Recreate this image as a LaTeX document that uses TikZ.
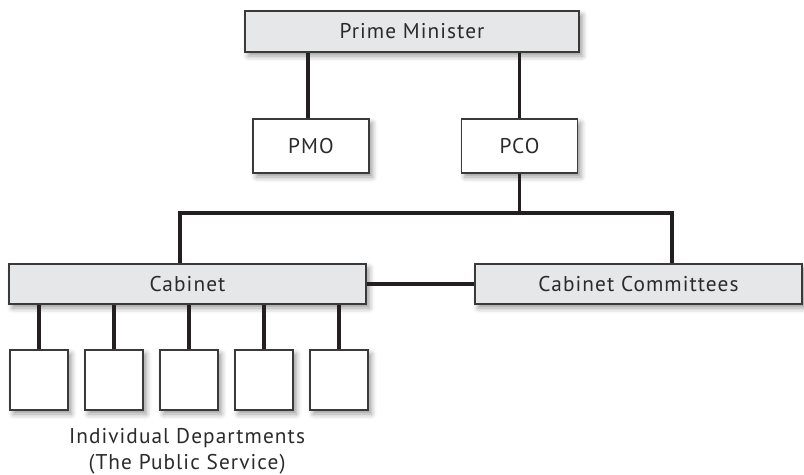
\documentclass[tikz,border=0pt]{standalone}
\usepackage{fontspec}
\setmainfont[LetterSpace=5]{PT Sans}
\usetikzlibrary{shadows.blur}
\definecolor{OrgFill}{HTML}{E6E7E8}
\definecolor{OrgLine}{HTML}{3A3A3A}
\definecolor{OrgLink}{HTML}{231F20}
\definecolor{OrgText}{HTML}{2B2B2B}
\tikzset{
  orgbox/.style={draw=OrgLine,line width=0.8pt,fill=OrgFill,inner sep=0pt,text=OrgText,
    blur shadow={shadow xshift=2.5pt,shadow yshift=-3pt,shadow blur radius=4pt,shadow opacity=40},
    font=\fontsize{16}{18}\selectfont},
  plainbox/.style={orgbox,fill=white},
  link/.style={draw=OrgLink,line width=2.3pt}
}

\begin{document}
\begin{tikzpicture}[x=0.75pt,y=-0.75pt]
\path[use as bounding box] (0,0) rectangle (804,475);
% top level
\node[orgbox,minimum width=250.5pt,minimum height=30.75pt] (pm) at (412,31.5) {Prime Minister};
\node[plainbox,minimum width=87pt,minimum height=40.5pt] (pmo) at (311,146) {PMO};
\node[plainbox,minimum width=87pt,minimum height=40.5pt] (pco) at (519.5,146) {PCO};
% cabinet level
\node[orgbox,minimum width=267.75pt,minimum height=30pt] (cab) at (187.5,284) {Cabinet};
\node[orgbox,minimum width=245.25pt,minimum height=30pt] (com) at (638.5,284) {Cabinet Committees};
\coordinate (busL) at (180,213);
\coordinate (busR) at (672,213);
% departments
\foreach \i in {0,...,4}
  \node[plainbox,minimum width=43.5pt,minimum height=45pt] (dept\i) at (39+75*\i,380) {};
\node[align=center,text=OrgText,font=\fontsize{16}{19.5}\selectfont] (deptlabel) at (187,451)
  {Individual Departments\\(The Public Service)};
% connectors
\path[link] (pco.north) -- (pco.north |- pm.south);
\path[link] (pmo.north -| 308,0) -- (308,0 |- pm.south);
\path[link] (pco.south) -- (pco.south |- busL);
\path[link] (busL |- cab.north) -- (busL) -- (busR) -- (busR |- com.north);
\path[link] (cab.east) -- (com.west);
\foreach \i in {0,...,4}
  \path[link] (dept\i.north) -- (dept\i.north |- cab.south);
\end{tikzpicture}
\end{document}
